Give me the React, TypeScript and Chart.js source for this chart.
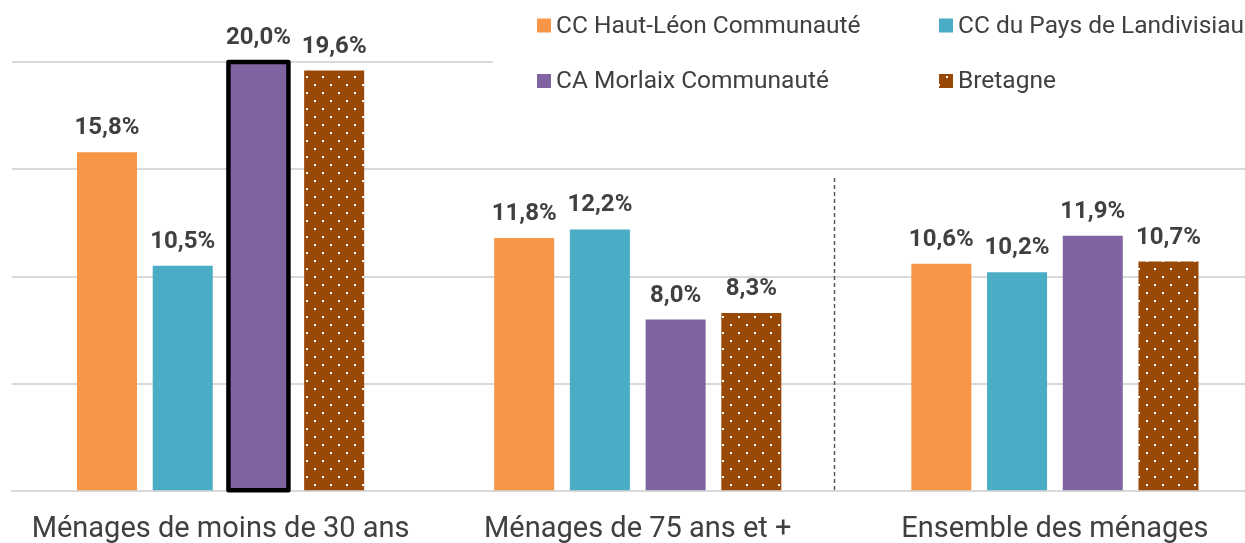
import React, { useEffect, useRef } from "react";
import { Chart, registerables } from "chart.js";

Chart.register(...registerables);

// ---- data ----
const categories = ["Ménages de moins de 30 ans", "Ménages de 75 ans et +", "Ensemble des ménages"];
const seriesNames = ["CC Haut-Léon Communauté", "CC du Pays de Landivisiau", "CA Morlaix Communauté", "Bretagne"];
const hautLeon = [15.8, 11.8, 10.6];
const landivisiau = [10.5, 12.2, 10.2];
const morlaix = [20.0, 8.0, 11.9];
const bretagne = [19.6, 8.3, 10.7];
const yMin = 0;
const yMax = 20;
const yStep = 5;
const highlightDataset = 2;
const highlightIndex = 0;
const separatorCategory = 1.47;
const separatorTopValue = 14.6;

const colors = ["#F79646", "#4BACC6", "#8064A2", "#984807"];
const textColor = "#404040";
const gridColor = "#D9D9D9";

function makeDots(color: string): CanvasPattern | string {
  const c = document.createElement("canvas");
  c.width = 16;
  c.height = 16;
  const g = c.getContext("2d");
  if (!g) return color;
  g.fillStyle = color;
  g.fillRect(0, 0, 16, 16);
  g.fillStyle = "#ffffff";
  g.fillRect(2, 12, 2, 2);
  g.fillRect(10, 4, 2, 2);
  return g.createPattern(c, "repeat") || color;
}

const fmt = (v: number) => v.toFixed(1).replace(".", ",") + "%";

export default function App() {
  const ref = useRef<HTMLCanvasElement | null>(null);

  useEffect(() => {
    if (!ref.current) return;
    const pattern = makeDots(colors[3]);
    const fills: any[] = [colors[0], colors[1], colors[2], pattern];
    const values = [hautLeon, landivisiau, morlaix, bretagne];

    const overlay = {
      id: "overlay",
      afterDatasetsDraw(chart: any) {
        const ctx = chart.ctx;
        const x = chart.scales.x;
        const y = chart.scales.y;
        // highlight border
        const hm = chart.getDatasetMeta(highlightDataset);
        const hel = hm.data[highlightIndex];
        if (hel) {
          ctx.save();
          ctx.strokeStyle = "#000000";
          ctx.lineWidth = 4.5;
          ctx.lineJoin = "round";
          ctx.strokeRect(hel.x - hel.width / 2, hel.y, hel.width, hel.base - hel.y);
          ctx.restore();
        }
        // separator
        ctx.save();
        ctx.strokeStyle = "#595959";
        ctx.lineWidth = 1.5;
        ctx.setLineDash([4, 3]);
        const sx = Math.round(x.getPixelForValue(separatorCategory)) + 0.5;
        ctx.beginPath();
        ctx.moveTo(sx, y.getPixelForValue(separatorTopValue));
        ctx.lineTo(sx, y.getPixelForValue(0));
        ctx.stroke();
        ctx.restore();
        // data labels
        ctx.save();
        ctx.font = "bold 24px Roboto";
        ctx.fillStyle = textColor;
        ctx.textAlign = "center";
        ctx.textBaseline = "alphabetic";
        chart.data.datasets.forEach((ds: any, di: number) => {
          const meta = chart.getDatasetMeta(di);
          meta.data.forEach((el: any, i: number) => {
            ctx.fillText(fmt(ds.data[i]), el.x, el.y - 18);
          });
        });
        ctx.restore();
      },
      afterDraw(chart: any) {
        const ctx = chart.ctx;
        ctx.save();
        ctx.fillStyle = "#ffffff";
        ctx.fillRect(493, 0, chart.width - 493, 106);
        const cols = [537, 939];
        const rows = [25.5, 81];
        ctx.font = "24.5px Roboto";
        ctx.textBaseline = "middle";
        ctx.textAlign = "left";
        chart.data.datasets.forEach((ds: any, i: number) => {
          const bx = cols[i % 2];
          const by = rows[Math.floor(i / 2)];
          ctx.fillStyle = fills[i];
          ctx.fillRect(bx, by - 7, 14, 14);
          ctx.fillStyle = textColor;
          ctx.fillText(ds.label, bx + 19, by + 1);
        });
        ctx.restore();
      },
    };

    const chart = new Chart(ref.current, {
      type: "bar",
      data: {
        labels: categories,
        datasets: seriesNames.map((name, i) => ({
          label: name,
          data: values[i],
          backgroundColor: fills[i],
          borderWidth: 0,
          categoryPercentage: 0.726,
          barPercentage: 0.7926,
        })),
      },
      options: {
        responsive: false,
        maintainAspectRatio: false,
        animation: false,
        devicePixelRatio: 1,
        layout: { padding: { left: 12, right: 11.5, top: 62, bottom: 12 } },
        plugins: {
          legend: { display: false },
          tooltip: { enabled: false },
        },
        scales: {
          x: {
            grid: { display: false, drawTicks: false },
            border: { display: true, color: gridColor, width: 2 },
            ticks: {
              color: textColor,
              font: { family: "Roboto", size: 29 },
              padding: 21,
              maxRotation: 0,
              autoSkip: false,
            },
          },
          y: {
            min: yMin,
            max: yMax,
            grid: { color: gridColor, lineWidth: 2, drawTicks: false },
            border: { display: false },
            ticks: { display: false, stepSize: yStep },
          },
        },
      },
      plugins: [overlay],
    } as any);
    return () => chart.destroy();
  }, []);

  return (
    <div style={{ position: "fixed", left: 0, top: 0, width: 1245, height: 543, overflow: "hidden", background: "#fff" }}>
      <canvas ref={ref} width={1275} height={580} style={{ display: "block", width: 1275, height: 580 }} />
    </div>
  );
}
